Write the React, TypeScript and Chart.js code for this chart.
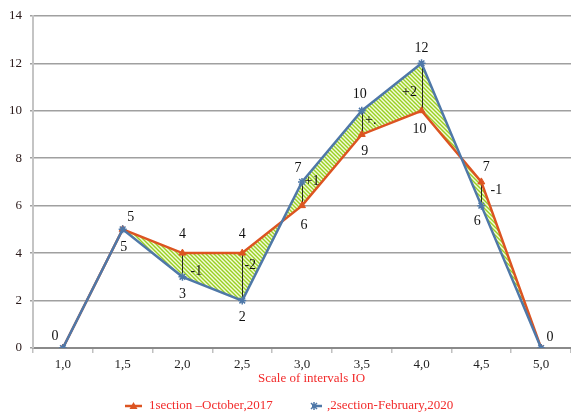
import React, { useEffect, useRef } from "react";
import { Chart, registerables } from "chart.js";

Chart.register(...registerables);

// Scale points along the x axis
const categories = ["1,0", "1,5", "2,0", "2,5", "3,0", "3,5", "4,0", "4,5", "5,0"];
// Survey results for both sections
const section1 = [0, 5, 4, 4, 6, 9, 10, 7, 0];
const section2 = [0, 5, 3, 2, 7, 10, 12, 6, 0];
const yTicks = [0, 2, 4, 6, 8, 10, 12, 14];
// Difference annotations between the two sections
const diffLabels = ["", "", "-1", "-2", "+1", "+.", "+2", "-1", ""];

const section1Name = "1section \u2013October,2017";
const section2Name = ",2section-February,2020";
const axisTitle = "Scale of intervals IO";

// Label placement offsets (px) relative to each point; null hides the label
const section1LabelOffset: ([number, number] | null)[] = [
  null, [8, -12], [0, -19], [0, -19], [2, 20], [3, 17], [-2, 19], [5, -15], null,
];
const section2LabelOffset: ([number, number] | null)[] = [
  [-8, -12], [1, 18], [0, 18], [0, 17], [-4, -14], [-2, -16], [0, -15], [-4, 16], [9, -11],
];
const diffLabelOffset: ([number, number] | null)[] = [
  null, null, [14, 6], [8, -11], [10, -12], [9, -2], [-12, 5], [15, -3], null,
];

const SERIF = "'Liberation Serif', 'Times New Roman', serif";
const ORANGE = "#dc5421";
const BLUE = "#4f78a8";
const RED_TEXT = "#f22a2a";

function makeHatch(): CanvasPattern | string {
  const c = document.createElement("canvas");
  c.width = 4;
  c.height = 4;
  const g = c.getContext("2d");
  if (!g) return "#c8e870";
  g.fillStyle = "#f4fbdc";
  g.fillRect(0, 0, 4, 4);
  g.strokeStyle = "#99d021";
  g.lineWidth = 1.4;
  g.beginPath();
  g.moveTo(-1, -1);
  g.lineTo(5, 5);
  g.moveTo(-1, 3);
  g.lineTo(1, 5);
  g.moveTo(3, -1);
  g.lineTo(5, 1);
  g.stroke();
  return g.createPattern(c, "repeat") || "#c8e870";
}

const overlayPlugin = {
  id: "overlay",
  beforeDatasetsDraw(chart: any) {
    const ctx = chart.ctx;
    const m1 = chart.getDatasetMeta(0).data;
    const m2 = chart.getDatasetMeta(1).data;
    ctx.save();
    ctx.strokeStyle = "#262626";
    ctx.lineWidth = 1;
    diffLabels.forEach((t, i) => {
      if (!t) return;
      const x = Math.round(m1[i].x) + 0.5;
      ctx.beginPath();
      ctx.moveTo(x, m1[i].y);
      ctx.lineTo(x, m2[i].y);
      ctx.stroke();
    });
    ctx.restore();
  },
  afterDatasetsDraw(chart: any) {
    const ctx = chart.ctx;
    const m1 = chart.getDatasetMeta(0).data;
    const m2 = chart.getDatasetMeta(1).data;
    ctx.save();
    ctx.font = `14px ${SERIF}`;
    ctx.fillStyle = "#111";
    ctx.textAlign = "center";
    ctx.textBaseline = "middle";
    section1.forEach((v, i) => {
      const o = section1LabelOffset[i];
      if (!o) return;
      ctx.fillText(String(v), m1[i].x + o[0], m1[i].y + o[1]);
    });
    section2.forEach((v, i) => {
      const o = section2LabelOffset[i];
      if (!o) return;
      ctx.fillText(String(v), m2[i].x + o[0], m2[i].y + o[1]);
    });
    diffLabels.forEach((t, i) => {
      const o = diffLabelOffset[i];
      if (!t || !o) return;
      const mid = (m1[i].y + m2[i].y) / 2;
      ctx.fillText(t, m1[i].x + o[0], mid + o[1]);
    });
    ctx.restore();
  },
  afterDraw(chart: any) {
    const ctx = chart.ctx;
    ctx.save();
    // axis title
    ctx.font = `13px ${SERIF}`;
    ctx.fillStyle = RED_TEXT;
    ctx.textAlign = "left";
    ctx.textBaseline = "middle";
    ctx.fillText(axisTitle, 258, 379);

    // legend
    const ly = 406;
    ctx.strokeStyle = ORANGE;
    ctx.lineWidth = 2.5;
    ctx.beginPath();
    ctx.moveTo(125, ly);
    ctx.lineTo(142, ly);
    ctx.stroke();
    ctx.fillStyle = ORANGE;
    ctx.beginPath();
    ctx.moveTo(133.5, ly - 4);
    ctx.lineTo(137.5, ly + 3);
    ctx.lineTo(129.5, ly + 3);
    ctx.closePath();
    ctx.fill();
    ctx.fillStyle = RED_TEXT;
    ctx.fillText(section1Name, 149, ly);

    ctx.strokeStyle = BLUE;
    ctx.lineWidth = 2.5;
    ctx.beginPath();
    ctx.moveTo(312, ly);
    ctx.lineTo(322, ly);
    ctx.stroke();
    ctx.lineWidth = 1.5;
    ctx.beginPath();
    ctx.moveTo(311, ly - 3);
    ctx.lineTo(317, ly + 3);
    ctx.moveTo(311, ly + 3);
    ctx.lineTo(317, ly - 3);
    ctx.moveTo(314, ly - 4);
    ctx.lineTo(314, ly + 4);
    ctx.stroke();
    ctx.fillStyle = RED_TEXT;
    ctx.fillText(section2Name, 327, ly);
    ctx.restore();
  },
};

export default function App() {
  const canvasRef = useRef<HTMLCanvasElement | null>(null);

  useEffect(() => {
    document.body.style.margin = "0";
    const canvas = canvasRef.current;
    if (!canvas) return;
    const hatch = makeHatch();
    const tickFont = { family: SERIF, size: 13 };

    const chart = new Chart(canvas, {
      type: "line",
      data: {
        labels: categories,
        datasets: [
          {
            label: section1Name,
            data: section1,
            borderColor: ORANGE,
            backgroundColor: ORANGE,
            borderWidth: 2.5,
            pointStyle: "triangle",
            pointRadius: 4,
            pointBackgroundColor: ORANGE,
            pointBorderColor: ORANGE,
            pointBorderWidth: 1,
            tension: 0,
            fill: false,
            order: 1,
          },
          {
            label: section2Name,
            data: section2,
            borderColor: BLUE,
            backgroundColor: hatch as any,
            borderWidth: 2.5,
            pointStyle: "star",
            pointRadius: 4,
            pointBackgroundColor: BLUE,
            pointBorderColor: BLUE,
            pointBorderWidth: 1.5,
            tension: 0,
            fill: "-1",
            order: 0,
          },
        ],
      },
      options: {
        animation: false,
        responsive: true,
        maintainAspectRatio: false,
        layout: { autoPadding: false, padding: { top: 15, right: 0, bottom: 0, left: 0 } },
        plugins: {
          legend: { display: false },
          tooltip: { enabled: false },
          filler: { drawTime: "beforeDatasetsDraw" },
        },
        scales: {
          x: {
            type: "category",
            offset: true,
            grid: {
              offset: true,
              drawOnChartArea: false,
              drawTicks: true,
              tickLength: 5,
              color: "#c0c0c0",
              lineWidth: 1.5,
            },
            border: { color: "#8a8a8a", width: 2 },
            ticks: { font: tickFont, color: "#222", padding: 4, maxRotation: 0, autoSkip: false },
            afterFit: (s: any) => {
              s.height = 69;
              s.paddingLeft = 0;
              s.paddingRight = 0;
            },
          },
          y: {
            min: 0,
            max: 14,
            afterBuildTicks: (s: any) => {
              s.ticks = yTicks.map((v) => ({ value: v }));
            },
            grid: { color: "#a0a0a0", lineWidth: 1.5, tickLength: 3 },
            border: { color: "#c4c4c4", width: 2 },
            ticks: { font: tickFont, color: "#2a1a1a", padding: 8 },
            afterFit: (s: any) => {
              s.width = 33;
            },
          },
        },
      },
      plugins: [overlayPlugin],
    } as any);

    return () => chart.destroy();
  }, []);

  return (
    <div style={{ position: "relative", width: 571, height: 417 }}>
      <canvas ref={canvasRef} />
    </div>
  );
}
